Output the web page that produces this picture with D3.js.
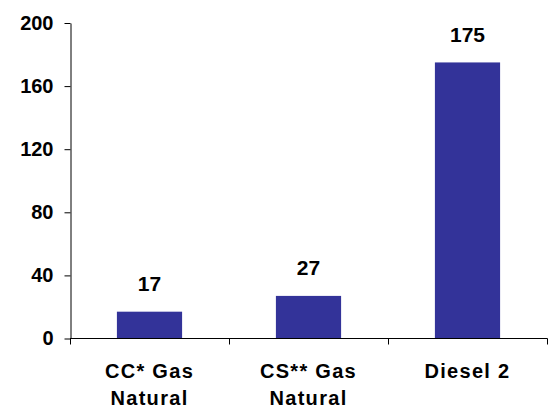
<!DOCTYPE html>
<html>
<head>
<meta charset="utf-8">
<script src="https://cdn.jsdelivr.net/npm/d3@7"></script>
<style>
  html, body { margin: 0; padding: 0; background: #fff; }
  svg { display: block; font-family: "Liberation Sans", Arial, sans-serif; font-weight: bold; }
</style>
</head>
<body>
<svg id="chart" width="552" height="407"></svg>
<script>
// Fuel categories (each label split over two lines) and their values
const categories = ["CC* Gas|Natural", "CS** Gas|Natural", "Diesel 2"];
const values = [17, 27, 175];
const yTicks = [0, 40, 80, 120, 160, 200];

const svg = d3.select("#chart");
const plotLeft = 70, plotRight = 547, plotTop = 23, plotBottom = 338.5;

const x = d3.scaleBand()
  .domain(categories)
  .range([plotLeft, plotRight])
  .paddingInner(0.59)
  .paddingOuter(0.295);

const y = d3.scaleLinear().domain([0, 200]).range([plotBottom, plotTop]);

// Y axis with outward ticks
const yAxis = svg.append("g")
  .attr("transform", `translate(${plotLeft + 0.5},0)`)
  .call(d3.axisLeft(y).tickValues(yTicks).tickSize(6).tickSizeOuter(0).tickPadding(11));
yAxis.select(".domain").attr("stroke", "#000");
yAxis.selectAll(".tick line").attr("stroke", "#000");
yAxis.selectAll(".tick text")
  .attr("fill", "#000")
  .style("font-size", "20px")
  .style("font-weight", "bold")
  .style("font-family", "'Liberation Sans', Arial, sans-serif");

// Bars
svg.append("g").selectAll("rect")
  .data(values)
  .join("rect")
  .attr("x", (d, i) => x(categories[i]))
  .attr("y", d => y(d))
  .attr("width", x.bandwidth())
  .attr("height", d => y(0) - y(d))
  .attr("fill", "#333399");

// X axis line and category separator ticks
const xLineY = Math.floor(plotBottom) + 0.5;
svg.append("line")
  .attr("x1", plotLeft).attr("x2", plotRight + 0.5)
  .attr("y1", xLineY).attr("y2", xLineY)
  .attr("stroke", "#000");

const outer = x.step() * x.paddingOuter();
const boundaries = categories.map(c => x(c) - outer)
  .concat([x(categories[categories.length - 1]) + x.bandwidth() + outer]);
svg.append("g").selectAll("line")
  .data(boundaries)
  .join("line")
  .attr("x1", d => Math.round(d) + 0.5)
  .attr("x2", d => Math.round(d) + 0.5)
  .attr("y1", xLineY)
  .attr("y2", xLineY + 6)
  .attr("stroke", "#000");

// Value labels above bars
svg.append("g").selectAll("text")
  .data(values)
  .join("text")
  .attr("x", (d, i) => x(categories[i]) + x.bandwidth() / 2)
  .attr("y", d => y(d) - 20.5)
  .attr("text-anchor", "middle")
  .style("font-size", "21px")
  .attr("fill", "#000")
  .text(d => d);

// Category labels
const catText = svg.append("g").selectAll("text")
  .data(categories)
  .join("text")
  .attr("text-anchor", "middle")
  .style("font-size", "20px")
  .style("letter-spacing", "1.3px")
  .attr("fill", "#000");
catText.each(function(c) {
  const cx = x(c) + x.bandwidth() / 2;
  d3.select(this).selectAll("tspan")
    .data(c.split("|"))
    .join("tspan")
    .attr("x", cx)
    .attr("y", (d, i) => 378 + i * 27)
    .text(d => d);
});
</script>
</body>
</html>
